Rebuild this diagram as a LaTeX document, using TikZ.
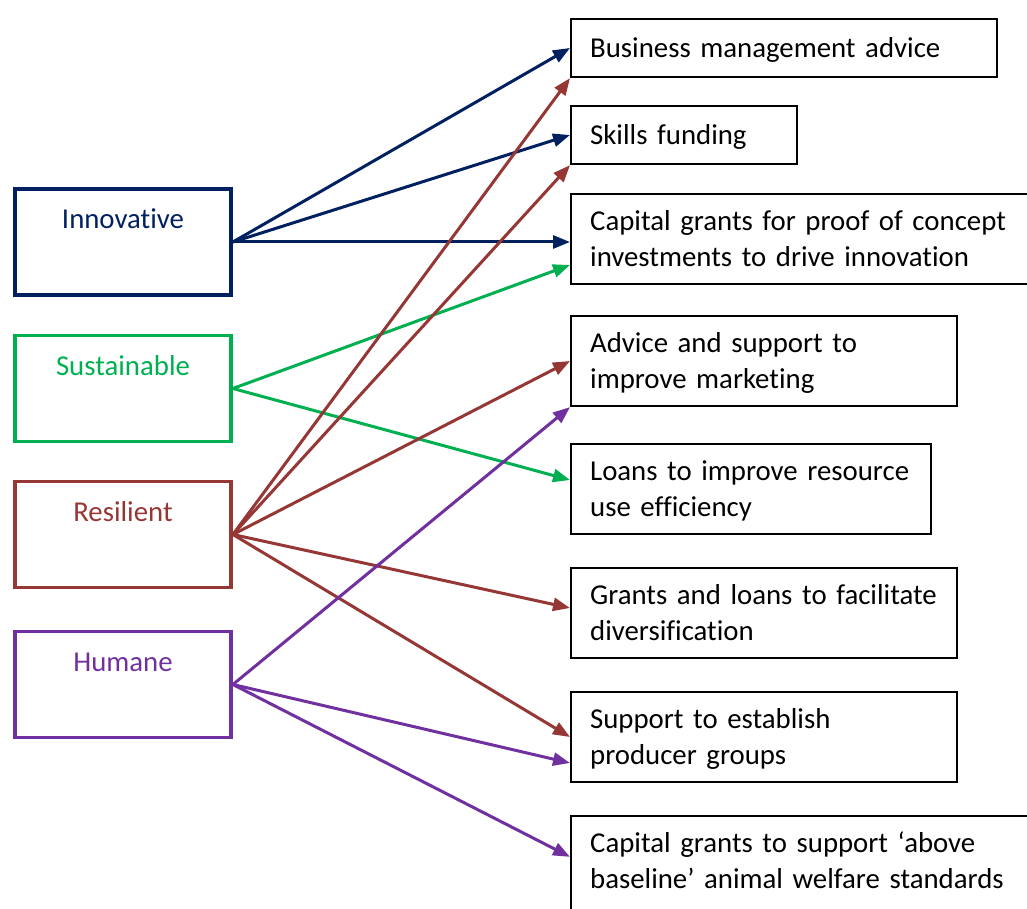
\documentclass[tikz,border=0pt]{standalone}
\usepackage{fontspec}
\setmainfont{Carlito}[Ligatures={NoCommon}]
\usepackage{tikz}
\usetikzlibrary{arrows.meta,calc,positioning}
\hyphenpenalty=10000
\definecolor{innoblue}{HTML}{002060}
\definecolor{sustgreen}{HTML}{00B050}
\definecolor{resilred}{HTML}{953735}
\definecolor{humpurple}{HTML}{7030A0}
\tikzset{
    >={Triangle[length=17pt,width=13pt]},
    aim/.style={
           draw=#1, line width=3.8pt,
           text=#1,
           minimum width=216pt,
           inner sep=21pt,
           text height=19pt,
           text depth=45pt,
           text centered},
    kast/.style={
           draw=black, line width=2.3pt,
           fill=white,
           anchor=west,
           inner xsep=19pt,
           inner ysep=0pt,
           text height=19pt,
           text depth=0pt,
           minimum height=58pt,
           align=left},
    kasttwo/.style={
           kast,
           text depth=36pt,
           minimum height=90pt},
    pil/.style={
           ->,
           draw=#1,
           line width=3pt}
}

\begin{document}
\begin{tikzpicture}[x=1pt, y=-1pt, font=\fontsize{28.8}{36}\selectfont]
        \clip (0,0) rectangle (1027,909);
        \useasboundingbox (0,0) rectangle (1027,909);

        % the four aims
        \node[aim=innoblue] (inno) at (123,242) {Innovative};
        \node[aim=sustgreen] (sust) at (123,388.5) {Sustainable};
        \node[aim=resilred] (resil) at (123,534.5) {Resilient};
        \node[aim=humpurple] (humane) at (123,684.5) {Humane};

        % the measures
        \node[kast, text width=388pt] (biz) at (570,48) {Business management advice};
        \node[kast, text width=188pt] (skills) at (570,135) {Skills funding};
        \node[kasttwo, text width=432pt] (proof) at (570,239) {Capital grants for proof of concept\\investments to drive innovation};
        \node[kasttwo, text width=348pt] (mkt) at (570,361) {Advice and support to\\improve marketing};
        \node[kasttwo, text width=322pt] (loans) at (570,489) {Loans to improve resource\\use efficiency};
        \node[kasttwo, text width=348pt] (divers) at (570,613) {Grants and loans to facilitate\\diversification};
        \node[kasttwo, text width=348pt] (groups) at (570,737) {Support to establish\\producer groups};
        \node[kasttwo, text width=432pt, text depth=46pt, minimum height=100pt] (welfare) at (570,866) {Capital grants to support ‘above\\baseline’ animal welfare standards};

        \draw[pil=innoblue] (inno.east) -- (biz.west);
        \draw[pil=innoblue] (inno.east) -- (skills.west);
        \draw[pil=innoblue] (inno.east) -- (inno.east -| proof.west);

        \draw[pil=sustgreen] (sust.east) -- ([yshift=-26pt]proof.west);
        \draw[pil=sustgreen] (sust.east) -- ([yshift=9pt]loans.west);

        \draw[pil=resilred] (resil.east) -- (biz.south west);
        \draw[pil=resilred] (resil.east) -- (skills.south west);
        \draw[pil=resilred] (resil.east) -- (mkt.west);
        \draw[pil=resilred] (resil.east) -- ([yshift=5pt]divers.west);
        \draw[pil=resilred] (resil.east) -- (groups.west);

        \draw[pil=humpurple] (humane.east) -- (mkt.south west);
        \draw[pil=humpurple] (humane.east) -- ([yshift=-26pt]groups.west);
        \draw[pil=humpurple] (humane.east) -- ([yshift=-42pt]welfare.north west);

    \end{tikzpicture}
\end{document}
